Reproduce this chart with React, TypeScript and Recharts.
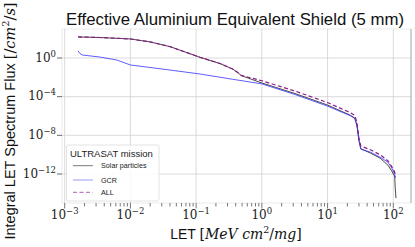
import React from "react";
import {
  LineChart,
  Line,
  XAxis,
  YAxis,
  ReferenceLine,
  ReferenceArea,
} from "recharts";

// values (LET in MeV cm^2/mg, flux in /cm^2/s)
const solarLet = [
  1.6e-3, 3.4e-3, 6.9e-3, 1e-2, 2e-2, 4e-2, 0.115, 0.23, 0.36, 0.44, 0.48, 1,
  3.2, 10, 22, 26, 28, 30, 32, 45, 63, 83, 95, 105, 107, 110,
];
const solarFlux = [
  151, 132, 105, 93, 46, 15, 1.17, 0.27, 0.072, 0.028, 0.0155, 2.6e-3, 2.1e-4,
  1.35e-5, 1.23e-6, 6.0e-7, 1.15e-7, 3.2e-9, 4.2e-10, 1.45e-10, 4.4e-11,
  8.1e-12, 1.95e-12, 5.9e-13, 3.4e-14, 3.2e-15,
];

const gcrLet = [
  1.6e-3, 1.7e-3, 1.86e-3, 3.4e-3, 6.2e-3, 1e-2, 4e-2, 0.115, 0.36, 1, 3.2, 10,
  22, 26, 28, 30, 32, 45, 63, 83, 95, 105, 107,
];
const gcrFlux = [
  5.4, 2.95, 2.04, 1.26, 0.62, 0.19, 0.057, 0.022, 6.3e-3, 2.1e-3, 1.66e-4,
  1.05e-5, 1.1e-6, 5.4e-7, 8.9e-8, 3.2e-9, 3.7e-10, 1.8e-10, 5.5e-11, 1.66e-11,
  4.0e-12, 9.5e-13, 4.0e-13,
];

const allLet = [
  1.6e-3, 3.4e-3, 6.9e-3, 1e-2, 2e-2, 4e-2, 0.115, 0.23, 0.36, 0.44, 0.48, 1,
  3.2, 10, 22, 26, 28, 30, 32, 45, 63, 83, 95, 105, 107,
];
const allFlux = [
  151, 132, 105, 93, 46, 15, 1.17, 0.27, 0.072, 0.028, 0.0166, 4.4e-3, 3.8e-4,
  2.45e-5, 2.3e-6, 1.12e-6, 2.0e-7, 5.0e-9, 7.9e-10, 3.2e-10, 1.0e-10, 2.3e-11,
  5.6e-12, 1.6e-12, 5.0e-13,
];

const xDecades = [1e-3, 1e-2, 1e-1, 1e0, 1e1, 1e2];
const xDecadeLabels = ["−3", "−2", "−1", "0", "1", "2"];
const minorSteps = [2, 3, 4, 5, 6, 7, 8, 9];
const yTicks = [1e0, 1e-4, 1e-8, 1e-12];
const yTickLabels = ["0", "−4", "−8", "−12"];

const xDomain = [9.1e-4, 186];
const yDomain = [1e-15, 1e3];

const toRows = (lets: number[], flux: number[]) =>
  lets.map((l, i) => ({ let: l, flux: flux[i] }));

const solarData = toRows(solarLet, solarFlux);
const gcrData = toRows(gcrLet, gcrFlux);
const allData = toRows(allLet, allFlux);

const xTicks = [
  ...xDecades,
  ...xDecades.flatMap((d) => minorSteps.map((m) => d * m)).filter(
    (v) => v < xDomain[1]
  ),
].sort((a, b) => a - b);

const serif = "'DejaVu Serif', 'Liberation Serif', serif";
const sans = "'Liberation Sans', 'DejaVu Sans', sans-serif";

const XTick = (props: any) => {
  const { x, y, payload } = props;
  const idx = xDecades.findIndex(
    (d) => Math.abs(d - payload.value) / d < 1e-6
  );
  const major = idx >= 0;
  return (
    <g>
      <line
        x1={x}
        x2={x}
        y1={y}
        y2={y + (major ? 5.5 : 3.5)}
        stroke="#555"
        strokeWidth={0.8}
      />
      {major && (
        <text
          x={x}
          y={y + 16}
          textAnchor="middle"
          fontFamily={serif}
          fontSize={12}
          fill="#222"
        >
          <tspan>10</tspan>
          <tspan dy={-5} fontSize={8.5}>
            {xDecadeLabels[idx]}
          </tspan>
        </text>
      )}
    </g>
  );
};

const YTick = (props: any) => {
  const { x, y, payload } = props;
  const idx = yTicks.findIndex((d) => Math.abs(d - payload.value) / d < 1e-6);
  return (
    <text
      x={x - 1}
      y={y + 3.5}
      textAnchor="end"
      fontFamily={serif}
      fontSize={12}
      fill="#222"
    >
      <tspan>10</tspan>
      <tspan dy={-5} fontSize={8.5}>
        {yTickLabels[idx]}
      </tspan>
    </text>
  );
};

export default function App() {
  return (
    <div
      style={{
        position: "absolute",
        left: 0,
        top: 0,
        width: 415,
        height: 247,
        background: "#fff",
      }}
    >
      <LineChart
        width={415}
        height={247}
        margin={{ top: 29, right: 4, bottom: 0, left: 0 }}
      >
        {/* frame + decade grid */}
        <ReferenceArea
          x1={xDomain[0]}
          x2={xDomain[1]}
          y1={yDomain[0]}
          y2={yDomain[1]}
          fill="none"
          stroke="#e6e6e6"
          strokeWidth={0.8}
          ifOverflow="visible"
        />
        {xDecades.map((d) => (
          <ReferenceLine
            key={"gx" + d}
            x={d}
            stroke="#d2d2d2"
            strokeWidth={0.8}
          />
        ))}
        {yTicks.map((d) => (
          <ReferenceLine
            key={"gy" + d}
            y={d}
            stroke="#d2d2d2"
            strokeWidth={0.8}
          />
        ))}
        <ReferenceLine
          x={xDomain[1]}
          stroke="#9a9a9a"
          strokeWidth={0.8}
          ifOverflow="visible"
        />
        <XAxis
          dataKey="let"
          type="number"
          scale="log"
          domain={xDomain}
          allowDataOverflow
          ticks={xTicks}
          interval={0}
          tick={<XTick />}
          tickLine={false}
          tickSize={0}
          tickMargin={0}
          axisLine={false}
          height={44}
        />
        <YAxis
          type="number"
          scale="log"
          domain={yDomain}
          allowDataOverflow
          ticks={yTicks}
          interval={0}
          tick={<YTick />}
          tickLine={{ stroke: "#444", strokeWidth: 0.8 }}
          tickSize={5}
          tickMargin={0}
          axisLine={false}
          width={62}
        />
        <Line
          data={solarData}
          dataKey="flux"
          type="linear"
          stroke="#1a1a1a"
          strokeWidth={0.8}
          dot={false}
          isAnimationActive={false}
        />
        <Line
          data={gcrData}
          dataKey="flux"
          type="linear"
          stroke="#3535ff"
          strokeWidth={0.8}
          dot={false}
          isAnimationActive={false}
        />
        <Line
          data={allData}
          dataKey="flux"
          type="linear"
          stroke="#8a1a8a"
          strokeWidth={1.2}
          strokeDasharray="4 2.5"
          dot={false}
          isAnimationActive={false}
        />
      </LineChart>

      {/* title, axis labels and legend */}
      <svg
        width={415}
        height={247}
        style={{ position: "absolute", left: 0, top: 0, pointerEvents: "none" }}
      >
        <text
          x={235}
          y={25}
          textAnchor="middle"
          fontFamily={sans}
          fontSize={17}
          fill="#111"
          textLength={338}
          lengthAdjust="spacingAndGlyphs"
        >
          Effective Aluminium Equivalent Shield (5 mm)
        </text>

        <text
          x={236}
          y={239}
          textAnchor="middle"
          fontSize={14}
          fill="#111"
        >
          <tspan fontFamily={sans}>LET </tspan>
          <tspan fontFamily={serif}>[</tspan>
          <tspan fontFamily={serif} fontStyle="italic">
            MeV cm
          </tspan>
          <tspan fontFamily={serif} fontSize={9.5} dy={-6}>
            2
          </tspan>
          <tspan fontFamily={serif} dy={6}>
            /
          </tspan>
          <tspan fontFamily={serif} fontStyle="italic">
            mg
          </tspan>
          <tspan fontFamily={serif}>]</tspan>
        </text>

        <text
          transform="translate(15,121) rotate(-90)"
          textAnchor="middle"
          fontSize={14.5}
          fill="#111"
        >
          <tspan fontFamily={sans}>Integral LET Spectrum Flux </tspan>
          <tspan fontFamily={serif}>[/</tspan>
          <tspan fontFamily={serif} fontStyle="italic">
            cm
          </tspan>
          <tspan fontFamily={serif} fontSize={10} dy={-6}>
            2
          </tspan>
          <tspan fontFamily={serif} dy={6}>
            /
          </tspan>
          <tspan fontFamily={serif} fontStyle="italic">
            s
          </tspan>
          <tspan fontFamily={serif}>]</tspan>
        </text>

        <g>
          <rect
            x={66.5}
            y={145}
            width={92.5}
            height={56}
            rx={2}
            fill="#fff"
            fillOpacity={0.85}
            stroke="#dcdcdc"
            strokeWidth={0.8}
          />
          <text
            x={70}
            y={156.5}
            fontFamily={sans}
            fontSize={9.5}
            fill="#222"
          >
            ULTRASAT mission
          </text>
          <line x1={73} x2={93} y1={165.7} y2={165.7} stroke="#555" strokeWidth={0.8} />
          <text x={101} y={168.2} fontFamily={sans} fontSize={7.2} fill="#222">
            Solar particles
          </text>
          <line x1={73} x2={93} y1={180} y2={180} stroke="#8080ff" strokeWidth={0.8} />
          <text x={101} y={182.5} fontFamily={sans} fontSize={7.2} fill="#222">
            GCR
          </text>
          <line
            x1={73}
            x2={93}
            y1={192.3}
            y2={192.3}
            stroke="#c080c0"
            strokeWidth={1.3}
            strokeDasharray="4 2.5"
          />
          <text x={101} y={194.8} fontFamily={sans} fontSize={7.2} fill="#222">
            ALL
          </text>
        </g>
      </svg>
    </div>
  );
}
